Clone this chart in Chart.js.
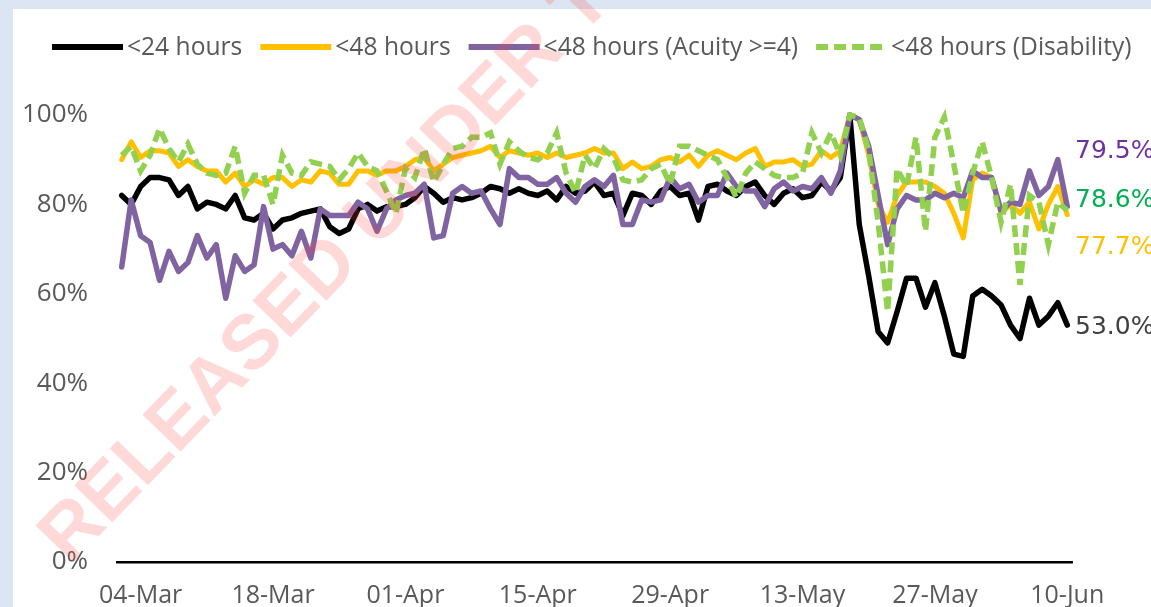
<!DOCTYPE html>
<html><head><meta charset="utf-8">
<script src="https://cdn.jsdelivr.net/npm/chart.js@4.4.1/dist/chart.umd.min.js"></script>
<style>
html,body{margin:0;padding:0;width:1151px;height:607px;overflow:hidden;background:#dce6f2;}
#bg{position:absolute;left:13px;top:9px;right:0;bottom:0;background:#ffffff;}
#wrap{position:absolute;left:0;top:0;width:1151px;height:607px;}
</style></head><body>
<div id="bg"></div>
<div id="wrap"><canvas id="c" width="1151" height="607"></canvas></div>
<script>
const categories = [
'02-Mar','03-Mar','04-Mar','05-Mar','06-Mar','07-Mar','08-Mar','09-Mar','10-Mar','11-Mar',
'12-Mar','13-Mar','14-Mar','15-Mar','16-Mar','17-Mar','18-Mar','19-Mar','20-Mar','21-Mar',
'22-Mar','23-Mar','24-Mar','25-Mar','26-Mar','27-Mar','28-Mar','29-Mar','30-Mar','31-Mar',
'01-Apr','02-Apr','03-Apr','04-Apr','05-Apr','06-Apr','07-Apr','08-Apr','09-Apr','10-Apr',
'11-Apr','12-Apr','13-Apr','14-Apr','15-Apr','16-Apr','17-Apr','18-Apr','19-Apr','20-Apr',
'21-Apr','22-Apr','23-Apr','24-Apr','25-Apr','26-Apr','27-Apr','28-Apr','29-Apr','30-Apr',
'01-May','02-May','03-May','04-May','05-May','06-May','07-May','08-May','09-May','10-May',
'11-May','12-May','13-May','14-May','15-May','16-May','17-May','18-May','19-May','20-May',
'21-May','22-May','23-May','24-May','25-May','26-May','27-May','28-May','29-May','30-May',
'31-May','01-Jun','02-Jun','03-Jun','04-Jun','05-Jun','06-Jun','07-Jun','08-Jun','09-Jun',
'10-Jun'];
const tickLabels = ['04-Mar','18-Mar','01-Apr','15-Apr','29-Apr','13-May','27-May','10-Jun'];
const seriesNames = ['<24 hours','<48 hours','<48 hours (Acuity >=4)','<48 hours (Disability)'];

const under24 = [
82,80,84,86,86,85.5,82,84,79,80.5,
80,79,82,77,76.5,78,74.5,76.5,77,78,
78.5,79,75,73.5,74.5,79,80,78.5,79.5,79.5,
80,81.5,84,82.5,80.5,81.5,81,81.5,82.5,84,
83.5,82.5,83.5,82.5,82,83,81,84,82.5,83,
85,82,82.5,77.5,82.5,82,80,83,84,82,
82.5,76.5,84,84.5,83,82,84,85,82,80,
82.5,83.5,81.5,82,85,83,86,100,75.5,64,
51.5,49,56,63.5,63.5,57,62.5,55,46.5,46,
59.5,61,59.5,57.5,53,50,59,53,55,58,
53.0];
const under48 = [
90,94,90.5,92,92,91.5,88.5,90,88.5,87.5,
87.5,85,87,84,85.5,84.5,86,86,84,85.5,
85,87.5,87,84.5,84.5,87.5,87.5,86.5,87.5,87.5,
88.5,90,90.5,87.5,89,90.5,91,91.5,92,93,
90.5,92,91.5,91,91.5,90.5,91.5,90.5,91,91.5,
92.5,91.5,91.5,88,89.5,88,88.5,90,90.5,89.5,
91,88.5,91,92,91,90,91.5,92.5,88.5,89.5,
89.5,90,88.5,89,92,90.5,92,100,99,91,
80,76,82,85,85,85,84,82.5,78,72.5,
85.5,87,86,78,80,78,80.5,74.5,80,84,
77.7];
const acuity = [
66,81,73,71.5,63,69.5,65,67,73,68,
71,59,68.5,65,66.5,79.5,70,71,68.5,74,
68,79,77.5,77.5,77.5,80.5,79,74,79,81,
82,82.5,84.5,72.5,73,82.5,84,82.5,83,79,
75.5,88,86,86,84.5,84.5,86,82.5,80.5,84,
85.5,84,86.5,75.5,75.5,81,80.5,81,86,83.5,
84.5,80.5,82,82,87,84,83,83,79.5,83.5,
85,83,84,83.5,86,82.5,87.5,100,99,93,
82,71,79,82,81,81,82.5,81.5,82.5,81.5,
87.5,86,86,78.5,80.5,80,87.5,82,84,90,
79.5];
const disability = [
91,93,87.5,91,97,92.5,89.5,93.5,89,87,
86.5,87,93,82.5,86.5,86.5,80,91,87,86.5,
89.5,89,88.5,85.5,88,91.5,88.5,87.5,83,78,
88,86,92.5,85,89,92.5,93,95,95,96,
89,94,92,90.5,90,91.5,96,87,82.5,91,
88,92.5,90.5,85.5,85,85.5,88,89,84.5,93,
93,92,91,90,86,81.5,87,89.5,88,86.5,
86,86,87,96,91.5,96,91,100,99.5,92,
76,56,88,84,95,74,95,99.5,89,78,
87,94,86,76,84.5,62,82,80.5,71,80.5,
78.6];
const yTicks = [0,20,40,60,80,100];

const seriesColors = ['#000000','#FFC000','#8064A2','#92D050'];
const labelColors = ['#404040','#FFC000','#7030A0','#00B050'];
// vertical anchor (in axis units) for the end-of-line value labels
const endLabelAnchor = [53.0, 70.7, 92.2, 81.4];

const legendPlugin = {
  id: 'customLegend',
  afterDraw(chart) {
    const ctx = chart.ctx;
    ctx.save();
    let x = 52;
    const y = 47;
    ctx.font = '24.6px "Open Sans"';
    ctx.textBaseline = 'middle';
    ctx.textAlign = 'left';
    chart.data.datasets.forEach((ds) => {
      ctx.beginPath();
      ctx.strokeStyle = ds.borderColor;
      ctx.lineWidth = 6;
      ctx.lineCap = 'butt';
      ctx.setLineDash(ds.borderDash || []);
      ctx.moveTo(x, y);
      ctx.lineTo(x + 71, y);
      ctx.stroke();
      ctx.setLineDash([]);
      ctx.fillStyle = '#595959';
      ctx.fillText(ds.label, x + 75, y + 1);
      x += 75 + ctx.measureText(ds.label).width + 18;
    });
    ctx.restore();
  }
};

const endLabelPlugin = {
  id: 'endLabels',
  afterDatasetsDraw(chart) {
    const ctx = chart.ctx;
    const ys = chart.scales.y;
    ctx.save();
    ctx.font = '25px "DejaVu Sans"';
    ctx.textBaseline = 'middle';
    ctx.textAlign = 'left';
    chart.data.datasets.forEach((ds, i) => {
      const v = ds.data[ds.data.length - 1];
      ctx.fillStyle = labelColors[i];
      ctx.fillText(v.toFixed(1) + '%', chart.chartArea.right + 3, ys.getPixelForValue(endLabelAnchor[i]) + 2);
    });
    ctx.restore();
  }
};

const watermarkPlugin = {
  id: 'watermark',
  afterDraw(chart) {
    const ctx = chart.ctx;
    ctx.save();
    ctx.translate(70, 566);
    ctx.rotate(-46 * Math.PI / 180);
    ctx.font = 'bold 77px "Liberation Sans"';
    ctx.fillStyle = 'rgba(255,60,60,0.2)';
    ctx.textBaseline = 'alphabetic';
    ctx.fillText('RELEASED UNDER THE OFFICIAL INFORMATION ACT', 0, 0);
    ctx.restore();
  }
};

const mk = (i, data, extra) => Object.assign({
  label: seriesNames[i],
  data: data,
  borderColor: seriesColors[i],
  backgroundColor: seriesColors[i],
  borderWidth: 5.5,
  pointRadius: 0,
  pointHoverRadius: 0,
  tension: 0,
  fill: false,
  clip: false,
  borderJoinStyle: 'round',
  borderCapStyle: 'round'
}, extra);

new Chart(document.getElementById('c'), {
  type: 'line',
  data: {
    labels: categories,
    datasets: [
      mk(0, under24, {order: 3}),
      mk(1, under48, {order: 2, borderWidth: 5}),
      mk(2, acuity, {order: 1}),
      mk(3, disability, {order: 0, borderDash: [12, 6], borderCapStyle: 'butt', borderJoinStyle: 'miter'})
    ]
  },
  options: {
    responsive: false,
    animation: false,
    events: [],
    layout: {padding: {top: 115, right: 79, left: 0, bottom: 0}},
    plugins: {legend: {display: false}, tooltip: {enabled: false}},
    scales: {
      x: {
        type: 'category',
        offset: true,
        grid: {display: false, drawTicks: false},
        border: {display: true, color: '#000000', width: 2.5},
        afterFit(s) { s.height = 45; },
        ticks: {
          autoSkip: false,
          maxRotation: 0,
          minRotation: 0,
          padding: 19,
          color: '#595959',
          font: {family: '"Open Sans"', size: 25},
          callback(v, i) { const l = categories[i]; return tickLabels.includes(l) ? l : ''; }
        }
      },
      y: {
        min: yTicks[0],
        max: yTicks[yTicks.length - 1],
        grid: {display: false, drawTicks: false},
        border: {display: false},
        afterFit(s) { s.width = 117; },
        afterBuildTicks(s) { s.ticks = yTicks.map(v => ({value: v})); },
        ticks: {
          padding: 29,
          color: '#595959',
          font: {family: '"Open Sans"', size: 26},
          callback(v) { return v + '%'; }
        }
      }
    }
  },
  plugins: [legendPlugin, endLabelPlugin, watermarkPlugin]
});
</script>
</body></html>
